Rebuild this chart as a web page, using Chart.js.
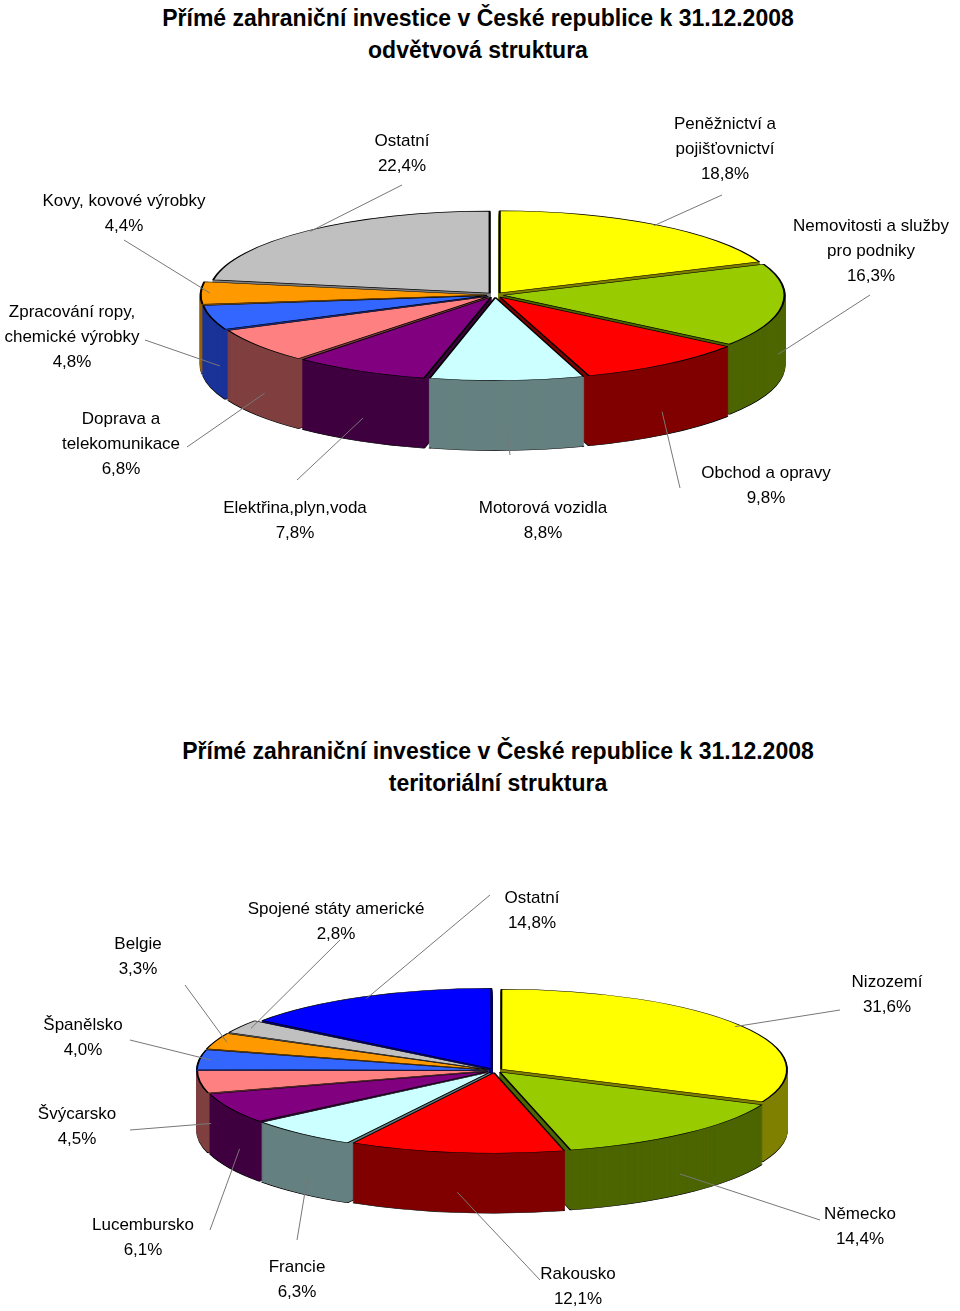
<!DOCTYPE html>
<html><head><meta charset="UTF-8">
<script src="https://cdn.jsdelivr.net/npm/chart.js"></script>
<style>
body{margin:0;background:#fff;font-family:'Liberation Sans',Arial,sans-serif;width:960px;height:1311px;position:relative;overflow:hidden}
h1{position:absolute;left:0;width:960px;margin:0;text-align:center;font-size:23px;font-weight:bold;line-height:32px}
.box{position:absolute;left:0;width:960px}
</style></head><body>
<h1 style="top:2px;left:-2px">Přímé zahraniční investice v České republice k 31.12.2008<br>odvětvová struktura</h1>
<div class="box" style="top:70px;height:560px"><canvas id="c1"></canvas></div>
<h1 style="top:735px;left:18px">Přímé zahraniční investice v České republice k 31.12.2008<br>teritoriální struktura</h1>
<div class="box" style="top:800px;height:511px"><canvas id="c2"></canvas></div>
<script>
// odvětvová struktura
const sectorLabels = ['Peněžnictví a\npojišťovnictví', 'Nemovitosti a služby\npro podniky', 'Obchod a opravy', 'Motorová vozidla', 'Elektřina,plyn,voda', 'Doprava a\ntelekomunikace', 'Zpracování ropy,\nchemické výrobky', 'Kovy, kovové výrobky', 'Ostatní'];
const sectorValues = [18.8, 16.3, 9.8, 8.8, 7.8, 6.8, 4.8, 4.4, 22.4];
// teritoriální struktura
const countryLabels = ['Nizozemí', 'Německo', 'Rakousko', 'Francie', 'Lucembursko', 'Švýcarsko', 'Španělsko', 'Belgie', 'Spojené státy americké', 'Ostatní'];
const countryValues = [31.6, 14.4, 12.1, 6.3, 6.1, 4.5, 4.0, 3.3, 2.8, 14.8];

const topColors = ['#ffff00', '#99cc00', '#ff0000', '#ccffff', '#800080', '#ff8080', '#3366ff', '#ff9900', '#c0c0c0', '#0000ff'];
const sideColors = ['#808000', '#4d6600', '#800000', '#668080', '#400040', '#804040', '#1a3399', '#996000', '#808080', '#000080'];

const fmt = v => v.toFixed(1).replace('.', ',') + '%';

const pie3d = {
  id: 'pie3d',
  beforeDatasetsDraw(chart, args, o) {
    const ctx = chart.ctx, meta = chart.getDatasetMeta(0);
    const e0 = meta.data[0], cx = e0.x, cy = e0.y, R = e0.outerRadius;
    const sx = o.rx / R, sy = o.ry / R;
    ctx.save();
    ctx.translate(cx, cy); ctx.scale(sx, sy); ctx.translate(-cx, -cy);
    for (let d = o.depth; d > 0; d--) {
      ctx.save();
      ctx.translate(0, d / sy);
      meta.data.forEach((el, i) => {
        const op = el.options, bg = op.backgroundColor, bc = op.borderColor;
        op.backgroundColor = sideColors[i];
        op.borderColor = d === o.depth ? '#000' : sideColors[i];
        el.draw(ctx);
        op.backgroundColor = bg; op.borderColor = bc;
      });
      ctx.restore();
    }
    meta.data.forEach(el => el.draw(ctx));
    ctx.restore();
    return false;
  },
  afterDraw(chart, args, o) {
    const ctx = chart.ctx, meta = chart.getDatasetMeta(0);
    const e0 = meta.data[0], cx = e0.x, cy = e0.y, R = e0.outerRadius;
    const sx = o.rx / R, sy = o.ry / R;
    const labels = chart.data.labels, vals = chart.data.datasets[0].data;
    ctx.save();
    ctx.font = '17px "Liberation Sans", Arial, sans-serif';
    ctx.fillStyle = '#000'; ctx.strokeStyle = '#777'; ctx.lineWidth = 1;
    ctx.textAlign = 'center'; ctx.textBaseline = 'top';
    meta.data.forEach((el, i) => {
      const a = (el.startAngle + el.endAngle) / 2, off = el.options.offset || 0;
      const c = Math.cos(a), s = Math.sin(a);
      const ex = cx + sx * (R * 0.9 + off) * c, ey = cy + sy * (R * 0.9 + off) * s + (s > 0 ? o.depth * 0.7 : 0);
      const [tx, ty, lx, ly] = o.place[i];
      ctx.beginPath(); ctx.moveTo(ex, ey); ctx.lineTo(lx, ly); ctx.stroke();
      const lines = labels[i].split('\n').concat(fmt(vals[i]));
      lines.forEach((t, k) => ctx.fillText(t, tx, ty + k * 25));
    });
    ctx.restore();
  }
};

function make(id, labels, values, pad, opts) {
  new Chart(document.getElementById(id), {
    type: 'pie',
    data: { labels, datasets: [{ data: values, backgroundColor: topColors.slice(0, values.length), borderColor: '#000', borderWidth: 1.5, offset: 24 }] },
    options: {
      responsive: true, maintainAspectRatio: false, animation: false,
      layout: { padding: pad },
      plugins: { legend: { display: false }, tooltip: { enabled: false }, pie3d: opts }
    },
    plugins: [pie3d]
  });
}
make('c1', sectorLabels, sectorValues, { top: 10, bottom: 120, left: 30 }, {
  rx: 280, ry: 82, depth: 70,
  place: [[725, 46, 722, 125], [871, 148, 870, 225], [766, 395, 680, 418], [543, 430, 510, 385],
          [295, 430, 297, 410], [121, 341, 187, 377], [72, 234, 145, 270], [124, 123, 124, 170], [402, 63, 402, 115]]
});
make('c2', countryLabels, countryValues, { top: 30, bottom: 0, left: 30 }, {
  rx: 285, ry: 80, depth: 60,
  place: [[887, 174, 840, 210], [860, 406, 820, 420], [578, 466, 540, 480], [297, 459, 297, 440], [143, 417, 210, 430],
          [77, 306, 130, 330], [83, 217, 130, 240], [138, 136, 185, 185], [336, 101, 340, 140], [532, 90, 490, 95]]
});
</script>
</body></html>
